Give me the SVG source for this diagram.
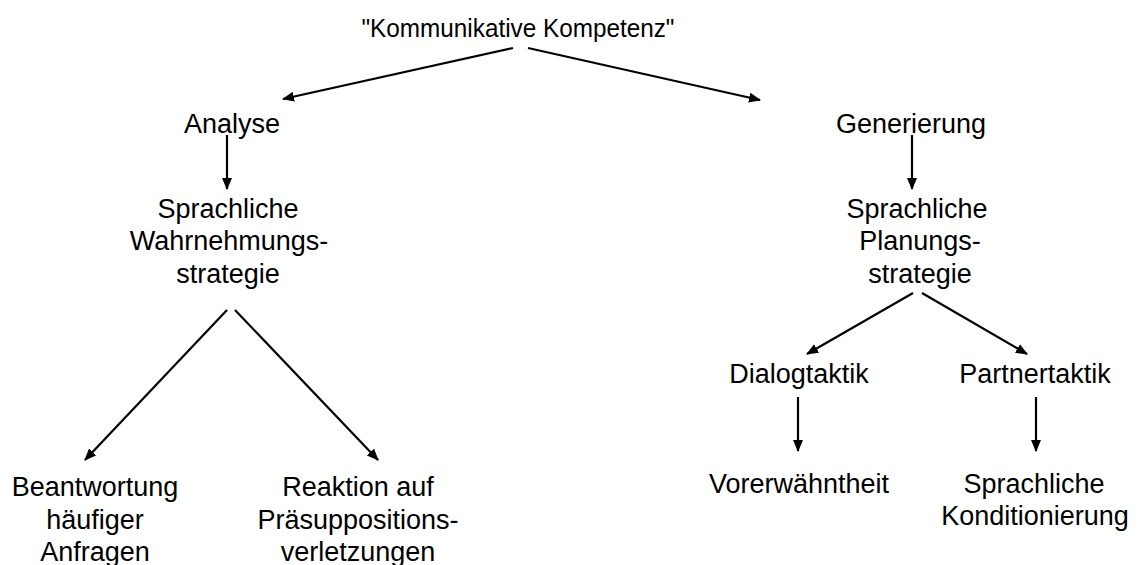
<svg xmlns="http://www.w3.org/2000/svg" width="1137" height="565" viewBox="0 0 1137 565">
  <defs>
    <style>
      .lbl { font-family: "Liberation Sans", Arial, sans-serif; font-size: 27px; fill: #000; text-anchor: middle; }
      .title { font-size: 25.5px; }
      .edge { stroke: #000; stroke-width: 2.2; fill: none; marker-end: url(#head); }
    </style>
    <marker id="head" viewBox="0 0 12 10" refX="11" refY="5" markerWidth="12" markerHeight="10" markerUnits="userSpaceOnUse" orient="auto">
      <path d="M0,0 L12,5 L0,10 z" fill="#000"/>
    </marker>
  </defs>
  <rect width="1137" height="565" fill="#fff"/>

  <g id="connectors">
    <line class="edge" x1="513" y1="48" x2="283" y2="99"/>
    <line class="edge" x1="528" y1="48" x2="760" y2="100"/>
    <line class="edge" x1="227" y1="135" x2="227" y2="189"/>
    <line class="edge" x1="912" y1="135" x2="912" y2="189"/>
    <line class="edge" x1="227" y1="310" x2="85" y2="460"/>
    <line class="edge" x1="235" y1="310" x2="378" y2="460"/>
    <line class="edge" x1="913" y1="293" x2="807" y2="354"/>
    <line class="edge" x1="922" y1="293" x2="1027" y2="354"/>
    <line class="edge" x1="798" y1="397" x2="798" y2="451"/>
    <line class="edge" x1="1036" y1="397" x2="1036" y2="451"/>
  </g>

  <g id="node-kompetenz">
    <text class="lbl title" x="518" y="36.5" textLength="313" lengthAdjust="spacingAndGlyphs">"Kommunikative Kompetenz"</text>
  </g>
  <g id="node-analyse">
    <text class="lbl" x="232" y="133">Analyse</text>
  </g>
  <g id="node-generierung">
    <text class="lbl" x="911" y="133">Generierung</text>
  </g>
  <g id="node-wahrnehmung">
    <text class="lbl" x="228" y="217.5">Sprachliche</text>
    <text class="lbl" x="229" y="250">Wahrnehmungs-</text>
    <text class="lbl" x="228" y="282.5">strategie</text>
  </g>
  <g id="node-planung">
    <text class="lbl" x="917" y="217.5">Sprachliche</text>
    <text class="lbl" x="920" y="250">Planungs-</text>
    <text class="lbl" x="920" y="282.5">strategie</text>
  </g>
  <g id="node-beantwortung">
    <text class="lbl" x="95" y="496">Beantwortung</text>
    <text class="lbl" x="95" y="528.5">häufiger</text>
    <text class="lbl" x="95" y="561">Anfragen</text>
  </g>
  <g id="node-reaktion">
    <text class="lbl" x="358" y="496">Reaktion auf</text>
    <text class="lbl" x="358" y="528.5">Präsuppositions-</text>
    <text class="lbl" x="358" y="561">verletzungen</text>
  </g>
  <g id="node-dialogtaktik">
    <text class="lbl" x="799" y="383">Dialogtaktik</text>
  </g>
  <g id="node-partnertaktik">
    <text class="lbl" x="1035" y="383">Partnertaktik</text>
  </g>
  <g id="node-vorerwaehntheit">
    <text class="lbl" x="799" y="493">Vorerwähntheit</text>
  </g>
  <g id="node-konditionierung">
    <text class="lbl" x="1034" y="493">Sprachliche</text>
    <text class="lbl" x="1035" y="525">Konditionierung</text>
  </g>
</svg>
